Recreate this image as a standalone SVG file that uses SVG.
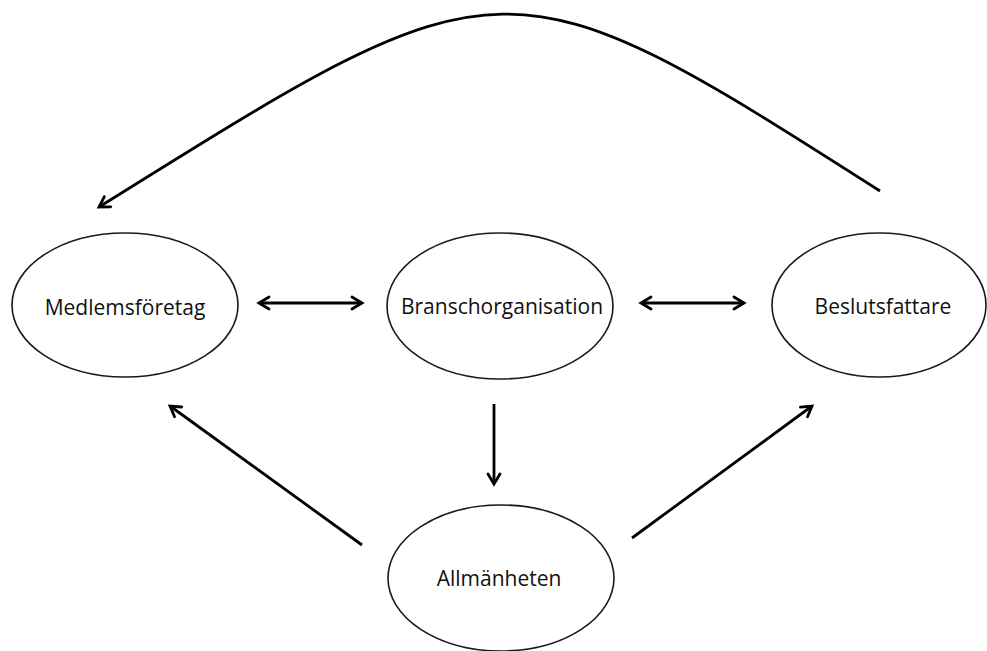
<svg xmlns="http://www.w3.org/2000/svg" width="987" height="651" viewBox="0 0 987 651">
<style>
.node ellipse{fill:#fff;stroke:#1a1a1a;stroke-width:1.6}
.node text{font-family:"Open Sans","Liberation Sans",sans-serif;font-size:21px;fill:#111;text-anchor:middle}
.conn path,.conn line{fill:none;stroke:#000;stroke-width:2.8}
</style>
<defs>
<marker id="ah" markerUnits="userSpaceOnUse" markerWidth="20" markerHeight="20" refX="13" refY="8" orient="auto-start-reverse">
<path d="M3,2 L13,8 L3,14" fill="none" stroke="#000" stroke-width="2.8" stroke-linecap="round" stroke-linejoin="miter"/>
</marker>
</defs>
<rect width="987" height="651" fill="#fff"/>
<g id="medlemsforetag" class="node"><ellipse cx="125" cy="305" rx="113" ry="72"/><text x="125" y="315">Medlemsföretag</text></g>
<g id="branschorganisation" class="node"><ellipse cx="500" cy="306" rx="113" ry="73"/><text x="502" y="314">Branschorganisation</text></g>
<g id="beslutsfattare" class="node"><ellipse cx="879" cy="305" rx="107" ry="72"/><text x="883" y="314">Beslutsfattare</text></g>
<g id="allmanheten" class="node"><ellipse cx="501" cy="578" rx="113" ry="73"/><text x="499" y="586">Allmänheten</text></g>
<g id="connectors" class="conn">
<line x1="259" y1="303" x2="362" y2="303" marker-start="url(#ah)" marker-end="url(#ah)"/>
<line x1="641" y1="303" x2="744" y2="303" marker-start="url(#ah)" marker-end="url(#ah)"/>
<line x1="494" y1="404" x2="494" y2="484" marker-end="url(#ah)"/>
<line x1="362" y1="545" x2="170" y2="406" marker-end="url(#ah)"/>
<line x1="632" y1="538" x2="812" y2="406" marker-end="url(#ah)"/>
<path d="M880,191 C503,-50 503,-45 99,207" marker-end="url(#ah)"/>
</g>
</svg>
